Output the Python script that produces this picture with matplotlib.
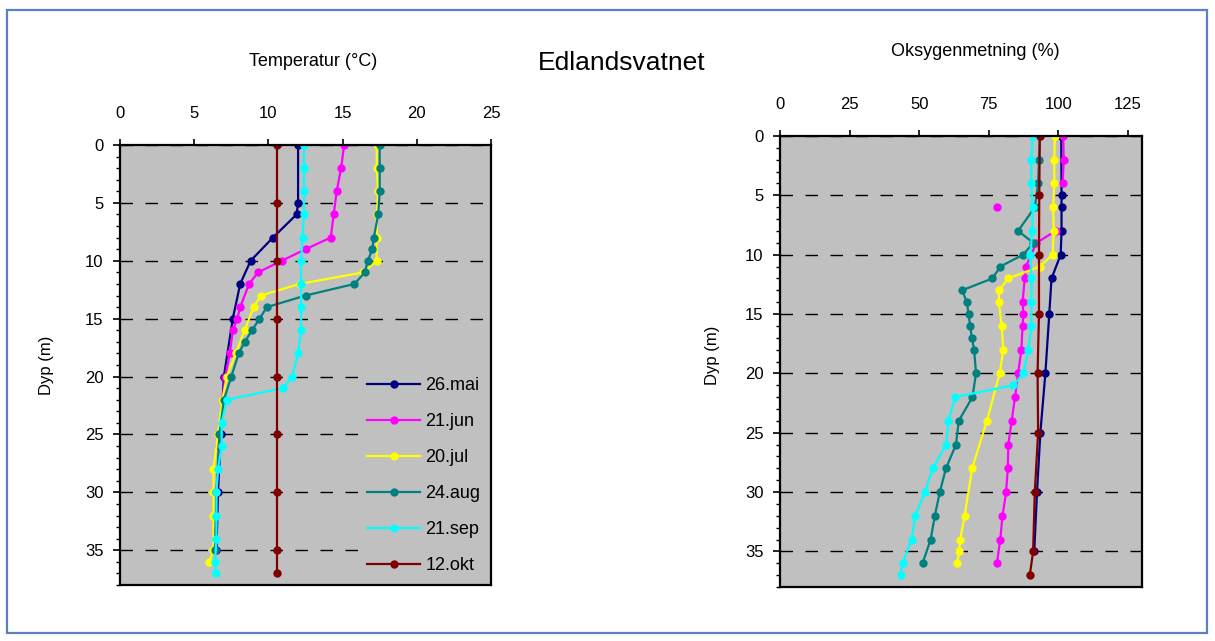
import numpy as np
import matplotlib
matplotlib.use("Agg")
import matplotlib.pyplot as plt
from matplotlib.patches import Rectangle
from matplotlib.ticker import MultipleLocator

plt.rcParams["font.family"] = ["Liberation Sans", "DejaVu Sans"]

# ------------------------------------------------------------
# Data
# ------------------------------------------------------------
labels = ["26.mai", "21.jun", "20.jul", "24.aug", "21.sep", "12.okt"]
colors = ["#000080", "#ff00ff", "#ffff00", "#008080", "#00ffff", "#800000"]

# Temperature (deg C) vs depth (m)
mai_d = [0, 5, 6, 8, 10, 12, 15, 20, 25, 30, 35]
mai_t = [12.0, 12.0, 11.9, 10.3, 8.8, 8.1, 7.6, 7.0, 6.8, 6.6, 6.5]

jun_d = [0, 2, 4, 6, 8, 9, 10, 11, 12, 14, 15, 16, 18, 20, 22, 26, 30, 35]
jun_t = [15.1, 14.9, 14.6, 14.4, 14.2, 12.5, 10.9, 9.3, 8.7, 8.1, 7.9, 7.6,
         7.4, 7.1, 6.9, 6.7, 6.5, 6.4]

jul_d = [0, 2, 4, 6, 8, 10, 11, 12, 13, 14, 16, 18, 20, 22, 25, 28, 30, 32, 35, 36]
jul_t = [17.3, 17.3, 17.4, 17.3, 17.3, 17.3, 16.4, 12.1, 9.5, 9.0, 8.4, 7.8,
         7.2, 6.9, 6.6, 6.3, 6.3, 6.3, 6.3, 6.0]

aug_d = [0, 2, 4, 6, 8, 9, 10, 11, 12, 13, 14, 15, 16, 17, 18, 20, 22, 25, 30, 35]
aug_t = [17.5, 17.5, 17.5, 17.4, 17.1, 17.0, 16.7, 16.5, 15.8, 12.5, 9.9, 9.4,
         8.9, 8.4, 8.0, 7.5, 7.0, 6.7, 6.5, 6.4]

sep_d = [0, 2, 4, 6, 8, 10, 12, 14, 16, 18, 20, 21, 22, 24, 26, 28, 30, 32, 34, 36, 37]
sep_t = [12.4, 12.4, 12.4, 12.4, 12.3, 12.2, 12.2, 12.2, 12.2, 12.0, 11.6, 11.0,
         7.2, 6.85, 6.85, 6.6, 6.5, 6.5, 6.5, 6.4, 6.45]

okt_d = [0, 5, 10, 15, 20, 25, 30, 35, 37]
okt_t = [10.6, 10.6, 10.6, 10.6, 10.6, 10.6, 10.6, 10.6, 10.6]

# Oxygen saturation (%) vs depth (m)
mai_od = [0, 5, 6, 8, 10, 12, 15, 20, 25, 30, 35]
mai_o = [101.0, 101.1, 101.1, 101.1, 100.8, 97.5, 96.7, 95.3, 93.5, 92.3, 91.3]

jun_od = [0, 2, 4, 5, 6, 7, 8, 9, 11, 12, 14, 15, 16, 18, 20, 22, 24, 26, 28, 30, 32, 34, 36]
jun_o = [101.7, 101.9, 101.5, np.nan, 78.1, np.nan, 99.0, 92.1, 88.3, 87.9, 87.1,
         87.4, 87.1, 86.7, 85.5, 84.4, 83.2, 82.0, 81.8, 81.2, 79.9, 79.1, 77.9]

jul_od = [0, 2, 4, 6, 8, 10, 11, 12, 13, 14, 16, 18, 20, 24, 28, 32, 34, 35, 36]
jul_o = [98.7, 98.5, 98.5, 98.1, 98.3, 97.9, 93.3, 82.0, 78.6, 78.6, 79.6, 80.2,
         78.9, 74.3, 69.0, 66.3, 64.7, 64.3, 63.7]

aug_od = [0, 2, 4, 6, 8, 9, 10, 11, 12, 13, 14, 15, 16, 17, 18, 20, 22, 24, 26, 28, 30, 32, 34, 36]
aug_o = [93.3, 93.0, 92.7, 91.5, 85.5, 91.0, 87.3, 79.1, 76.3, 65.4, 67.1, 67.7,
         68.3, 68.9, 69.7, 70.4, 69.1, 64.2, 63.2, 59.6, 57.4, 55.6, 54.1, 51.2]

sep_od = [0, 2, 4, 6, 8, 10, 12, 14, 16, 18, 20, 21, 22, 24, 26, 28, 30, 32, 34, 36, 37]
sep_o = [90.7, 90.3, 90.2, 90.7, 90.6, 89.9, 90.3, 90.3, 90.3, 89.2, 87.4, 83.8,
         62.9, 60.5, 59.7, 54.8, 52.1, 48.5, 47.3, 44.0, 43.3]

okt_od = [0, 5, 10, 15, 20, 25, 30, 35, 37]
okt_o = [93.3, 93.1, 93.0, 93.0, 92.5, 92.7, 91.5, 90.9, 89.7]

temp_series = [(mai_t, mai_d), (jun_t, jun_d), (jul_t, jul_d),
               (aug_t, aug_d), (sep_t, sep_d), (okt_t, okt_d)]
oxy_series = [(mai_o, mai_od), (jun_o, jun_od), (jul_o, jul_od),
              (aug_o, aug_od), (sep_o, sep_od), (okt_o, okt_od)]

temp_ticks = [0, 5, 10, 15, 20, 25]
oxy_ticks = [0, 25, 50, 75, 100, 125]
depth_ticks = [0, 5, 10, 15, 20, 25, 30, 35]

# ------------------------------------------------------------
# Figure
# ------------------------------------------------------------
W, H = 1215, 641
fig = plt.figure(figsize=(W / 100, H / 100), dpi=100)
fig.patch.set_facecolor("white")

fig.patches.append(Rectangle((7 / W, 1 - 633 / H), 1200 / W, 623 / H,
                             transform=fig.transFigure, fill=False,
                             edgecolor="#5b7fc0", linewidth=1.6))

ax1 = fig.add_axes([120 / W, 1 - 585 / H, 371 / W, 440 / H])
ax2 = fig.add_axes([780 / W, 1 - 587 / H, 362 / W, 451 / H])


def style_axis(ax, xticks, xlim):
    ax.set_facecolor("#c0c0c0")
    ax.set_xlim(*xlim)
    ax.set_ylim(38, 0)
    ax.xaxis.tick_top()
    ax.set_xticks(xticks)
    ax.set_yticks(depth_ticks)
    ax.yaxis.set_minor_locator(MultipleLocator(1))
    ax.tick_params(axis="x", direction="out", length=4, width=1.2,
                   pad=13, labelsize=12)
    ax.tick_params(axis="y", which="major", direction="out", length=5,
                   width=1.2, pad=7, labelsize=12)
    ax.tick_params(axis="y", which="minor", direction="out", length=3,
                   width=1.0)
    for sp in ax.spines.values():
        sp.set_linewidth(1.6)
        sp.set_color("black")
    ax.yaxis.grid(True, which="major", color="black", linestyle=(0, (9, 9)),
                  linewidth=1.0)
    ax.set_axisbelow(True)


style_axis(ax1, temp_ticks, (0, 25))
style_axis(ax2, oxy_ticks, (0, 130))

for (vals, dep), lab, col in zip(temp_series, labels, colors):
    ax1.plot(vals, dep, color=col, marker="o", markersize=5,
             linewidth=1.6, label=lab)

for (vals, dep), lab, col in zip(oxy_series, labels, colors):
    ax2.plot(vals, dep, color=col, marker="o", markersize=5,
             linewidth=1.6, label=lab)

leg = ax1.legend(loc="lower right", bbox_to_anchor=(1.0, 0.0),
                 fontsize=13, frameon=True, facecolor="#c0c0c0",
                 edgecolor="#c0c0c0", framealpha=1, handlelength=2.9,
                 handletextpad=0.3, labelspacing=1.05, borderaxespad=0.2,
                 borderpad=0.4, fancybox=False)

fig.text(313 / W, 1 - 62 / H, "Temperatur (°C)", ha="center", va="center",
         fontsize=13)
fig.text(975 / W, 1 - 52 / H, "Oksygenmetning (%)", ha="center", va="center",
         fontsize=13)
fig.text(622 / W, 1 - 63 / H, "Edlandsvatnet", ha="center", va="center",
         fontsize=19)
fig.text(47 / W, 1 - 365 / H, "Dyp (m)", ha="center", va="center",
         rotation=90, fontsize=12)
fig.text(712 / W, 1 - 355 / H, "Dyp (m)", ha="center", va="center",
         rotation=90, fontsize=12)

fig.savefig("out.png", dpi=100)
